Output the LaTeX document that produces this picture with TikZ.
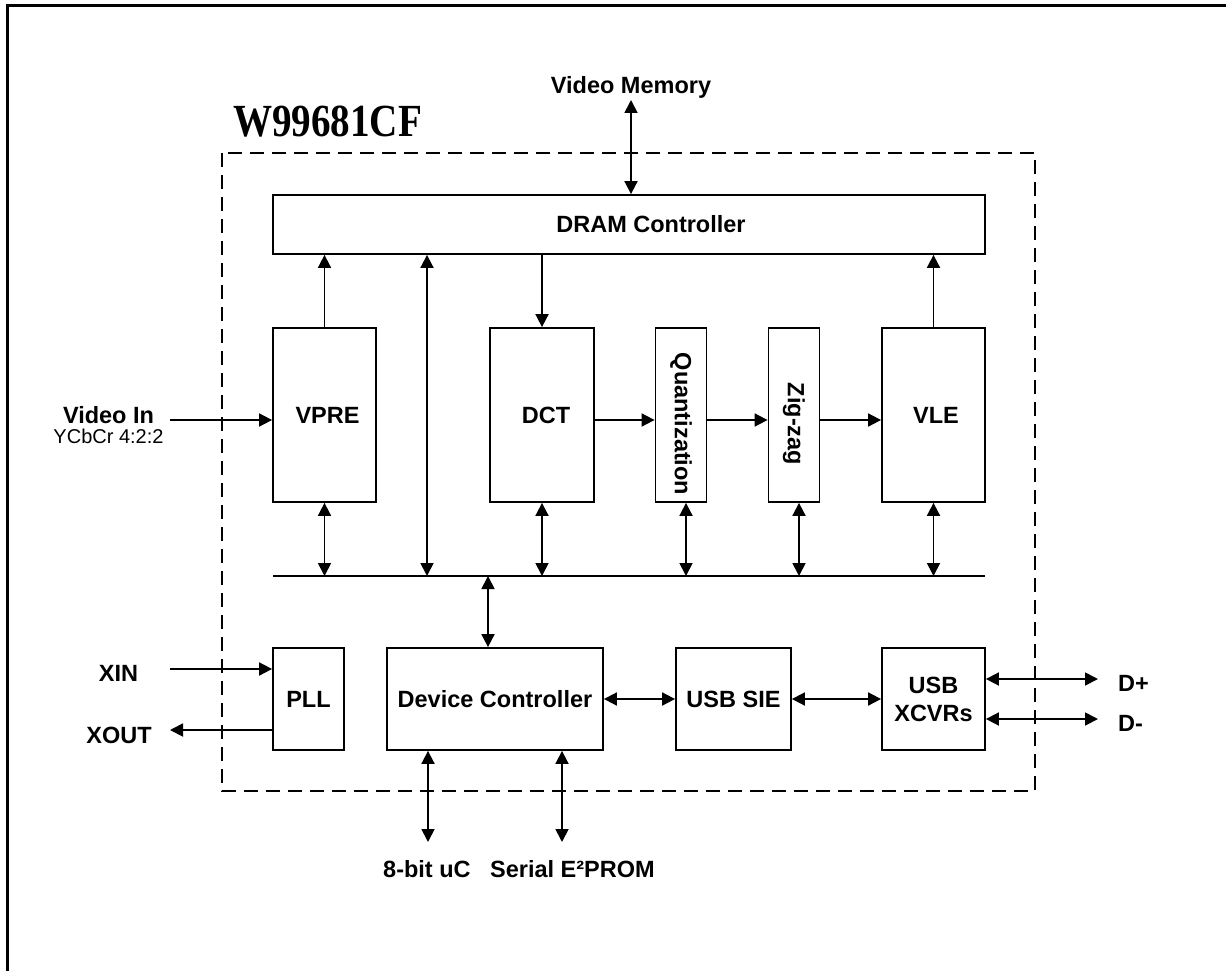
\documentclass[tikz,border=0pt]{standalone}
\usepackage{fontspec}
\setmainfont{Liberation Sans}
\newfontfamily\titlefont{Liberation Serif}
\usetikzlibrary{arrows.meta}
\begin{document}
\begin{tikzpicture}[x=1pt,y=-1pt,
  box/.style={draw,line width=1.8pt,inner sep=0pt,align=center,
    font=\fontsize{23.5}{28}\selectfont\bfseries},
  lbl/.style={inner sep=0pt,font=\fontsize{23.5}{28}\selectfont\bfseries},
  small/.style={inner sep=0pt,font=\fontsize{20}{24}\selectfont},
  conn/.style={line width=1.8pt},
  arr/.style={conn,-{Triangle[length=13pt,width=13pt]}},
  darr/.style={conn,{Triangle[length=13pt,width=13pt]}-{Triangle[length=13pt,width=13pt]}}
]
\useasboundingbox (0,0) rectangle (1226,971);
\clip (0,0) rectangle (1226,971);
% outer frame (cut by the page edge)
\draw[line width=3pt] (7.5,1000) -- (7.5,5.5) -- (1240,5.5);
% chip outline
\draw[line width=1.8pt,dash pattern=on 14pt off 8pt] (222,153) rectangle (1035,791);
\node[anchor=base,inner sep=0pt,xscale=0.85,font=\fontsize{46}{50}\selectfont\titlefont\bfseries] (title) at (327.5,136) {W99681CF};

% blocks
\node[box,minimum width=712pt,minimum height=59pt] (dram) at (629,224.5) {\hspace*{44pt}DRAM Controller};
\node[box,minimum width=103pt,minimum height=174pt] (vpre) at (324.5,415) {\hspace*{6pt}VPRE};
\node[box,minimum width=104pt,minimum height=174pt] (dct) at (542,415) {\hspace*{8pt}DCT};
\node[box,minimum width=51pt,minimum height=174pt] (quant) at (681,415) {};
\node[box,minimum width=51pt,minimum height=174pt] (zig) at (794,415) {};
\node[lbl,rotate=-90] (quantlbl) at ([yshift=-9pt]quant.center) {Quantization};
\node[lbl,rotate=-90] (ziglbl) at ([yshift=-9pt]zig.center) {Zig-zag};
\node[box,minimum width=103pt,minimum height=174pt] (vle) at (933.5,415) {\hspace*{5pt}VLE};
\node[box,minimum width=71pt,minimum height=102pt] (pll) at (308.5,699) {PLL};
\node[box,minimum width=216pt,minimum height=102pt] (devc) at (495,699) {Device Controller};
\node[box,minimum width=115pt,minimum height=102pt] (sie) at (733.5,699) {USB SIE};
\node[box,minimum width=103pt,minimum height=102pt] (xcvr) at (933.5,699) {USB\\XCVRs};

% bus
\coordinate (busL) at (273,576);
\coordinate (busR) at (985,576);
\draw[conn] (busL) -- (busR);

% external labels
\node[lbl,anchor=base] (vm) at (631,94) {Video Memory};
\node[lbl,anchor=base] (vin) at (108.5,423) {Video In};
\node[small,anchor=base] (ycc) at (108.5,443) {YCbCr 4:2:2};
\node[lbl,anchor=base] (xin) at (118.5,681) {XIN};
\node[lbl,anchor=base] (xout) at (119,743) {XOUT};
\node[lbl,anchor=base west] (dp) at (1118,691) {D+};
\node[lbl,anchor=base west] (dm) at (1118,731) {D-};
\node[lbl,anchor=base west] (uc) at (383,877) {8-bit uC};
\node[lbl,anchor=base west] (eep) at (490,877) {Serial E²PROM};

% connector end points
\coordinate (vmT) at (631,100);
\coordinate (vinL) at (170,420);
\coordinate (flow) at (0,420);
\coordinate (xinL) at (170,669);
\coordinate (xoutL) at (170,730);
\coordinate (dpR) at (1098,679);
\coordinate (dmR) at (1098,719);
\coordinate (ucB) at (428,842);
\coordinate (eepB) at (562,842);
\coordinate (longA) at (427,576);
\coordinate (busD) at (488,576);

% video memory
\draw[darr] (vmT) -- (vmT |- dram.north);
% dram links
\draw[arr] (vpre.north) -- (vpre.north |- dram.south);
\draw[darr] (longA) -- (longA |- dram.south);
\draw[arr] (dct.north |- dram.south) -- (dct.north);
\draw[arr] (vle.north) -- (vle.north |- dram.south);
% pipeline
\draw[arr] (vinL) -- (vinL -| vpre.west);
\draw[arr] (dct.east |- flow) -- (quant.west |- flow);
\draw[arr] (quant.east |- flow) -- (zig.west |- flow);
\draw[arr] (zig.east |- flow) -- (vle.west |- flow);
% to bus
\draw[darr] (vpre.south) -- (vpre.south |- busL);
\draw[darr] (dct.south) -- (dct.south |- busL);
\draw[darr] ([xshift=5pt]quant.south) -- ([xshift=5pt]quant.south |- busL);
\draw[darr] ([xshift=5pt]zig.south) -- ([xshift=5pt]zig.south |- busL);
\draw[darr] (vle.south) -- (vle.south |- busL);
\draw[darr] (busD) -- (busD |- devc.north);
% lower row
\draw[arr] (xinL) -- (xinL -| pll.west);
\draw[arr] (xoutL -| pll.west) -- (xoutL);
\draw[darr] (devc.east) -- (sie.west);
\draw[darr] (sie.east) -- (xcvr.west);
\draw[darr] (dpR -| xcvr.east) -- (dpR);
\draw[darr] (dmR -| xcvr.east) -- (dmR);
\draw[darr] (ucB |- devc.south) -- (ucB);
\draw[darr] (eepB |- devc.south) -- (eepB);
\end{tikzpicture}
\end{document}
